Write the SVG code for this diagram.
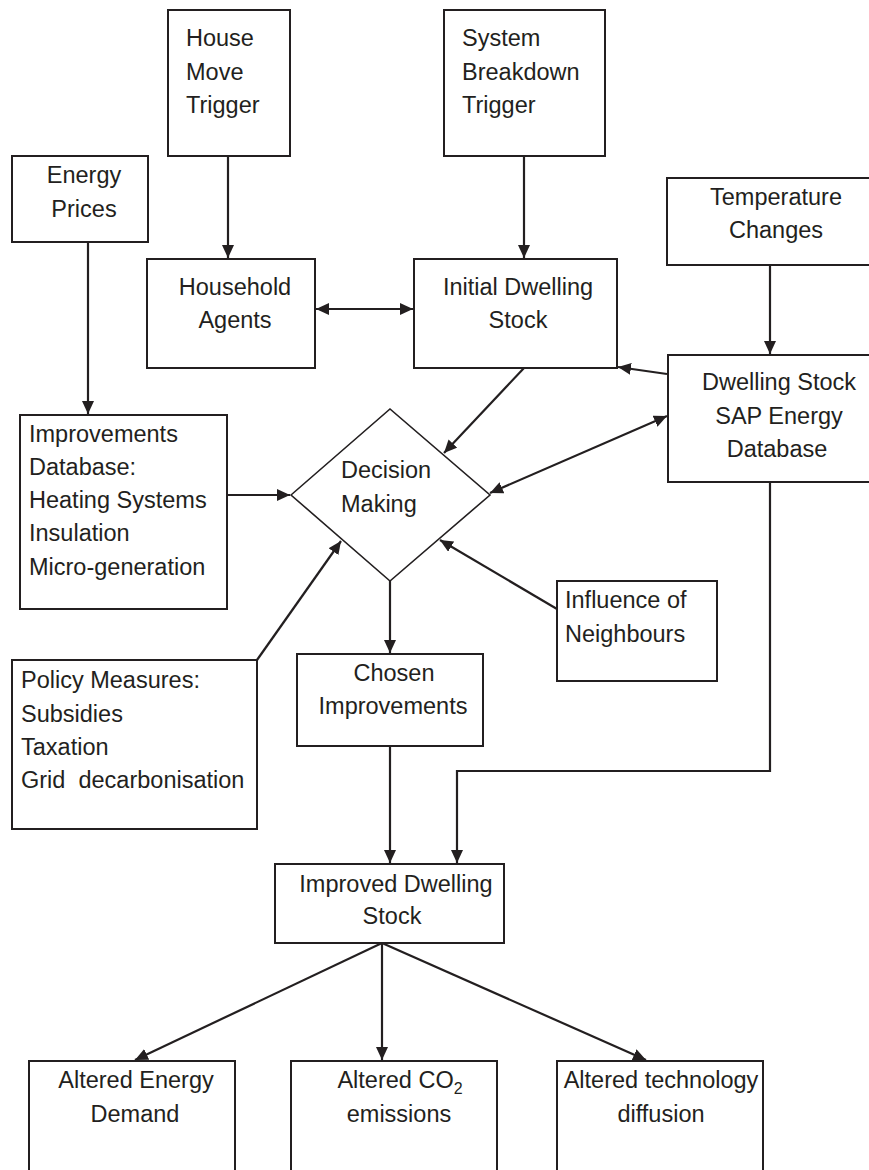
<svg xmlns="http://www.w3.org/2000/svg" width="869" height="1170" viewBox="0 0 869 1170">
<style>
.box{fill:#fff;stroke:#231f20;stroke-width:2}
.t{font-family:"Liberation Sans",Arial,sans-serif;font-size:23.5px;fill:#231f20}
.c{text-anchor:middle}
.con{fill:none;stroke:#231f20;stroke-width:2.2}
.arr{marker-end:url(#ah)}
.dbl{marker-start:url(#ah);marker-end:url(#ah)}
</style>
<defs>
<marker id="ah" markerUnits="userSpaceOnUse" markerWidth="14" markerHeight="12" refX="13" refY="6" orient="auto-start-reverse">
<path d="M0,0 L13,6 L0,12 z" fill="#231f20"/>
</marker>
</defs>
<rect width="869" height="1170" fill="#fff"/>

<g id="connectors">
<line class="con arr" x1="228" y1="156" x2="228" y2="258"/>
<line class="con arr" x1="524" y1="156" x2="524" y2="258"/>
<line class="con arr" x1="88" y1="242" x2="88" y2="414"/>
<line class="con dbl" x1="316" y1="309" x2="413" y2="309"/>
<line class="con arr" x1="770" y1="265" x2="770" y2="354"/>
<line class="con arr" x1="667" y1="374" x2="618" y2="367"/>
<line class="con arr" x1="524" y1="368" x2="444" y2="453"/>
<line class="con dbl" x1="490" y1="493" x2="667" y2="416"/>
<line class="con arr" x1="227" y1="495" x2="290" y2="495"/>
<line class="con arr" x1="257" y1="660" x2="341" y2="541"/>
<line class="con arr" x1="557" y1="609" x2="440" y2="540"/>
<line class="con arr" x1="390" y1="581" x2="390" y2="653"/>
<line class="con arr" x1="390" y1="746" x2="390" y2="863"/>
<path class="con arr" d="M770,482 V771 H457 V863"/>
<line class="con arr" x1="382" y1="943" x2="135" y2="1060"/>
<line class="con arr" x1="382" y1="943" x2="382" y2="1060"/>
<line class="con arr" x1="382" y1="943" x2="646" y2="1060"/>
</g>

<g id="house-move-trigger">
<rect class="box" x="168" y="10" width="122" height="146"/>
<text class="t" x="186" y="46">House</text>
<text class="t" x="186" y="80">Move</text>
<text class="t" x="186" y="113">Trigger</text>
</g>

<g id="system-breakdown-trigger">
<rect class="box" x="444" y="10" width="161" height="146"/>
<text class="t" x="462" y="46">System</text>
<text class="t" x="462" y="80">Breakdown</text>
<text class="t" x="462" y="113">Trigger</text>
</g>

<g id="energy-prices">
<rect class="box" x="12" y="156" width="136" height="86"/>
<text class="t c" x="84" y="183">Energy</text>
<text class="t c" x="84" y="217">Prices</text>
</g>

<g id="temperature-changes">
<rect class="box" x="667" y="178" width="215" height="87"/>
<text class="t c" x="776" y="205">Temperature</text>
<text class="t c" x="776" y="238">Changes</text>
</g>

<g id="household-agents">
<rect class="box" x="147" y="259" width="168" height="109"/>
<text class="t c" x="235" y="295">Household</text>
<text class="t c" x="235" y="328">Agents</text>
</g>

<g id="initial-dwelling-stock">
<rect class="box" x="414" y="259" width="203" height="109"/>
<text class="t c" x="518" y="295">Initial Dwelling</text>
<text class="t c" x="518" y="328">Stock</text>
</g>

<g id="dwelling-stock-sap">
<rect class="box" x="668" y="355" width="214" height="127"/>
<text class="t c" x="779" y="390">Dwelling Stock</text>
<text class="t c" x="779" y="424">SAP Energy</text>
<text class="t c" x="777" y="457">Database</text>
</g>

<g id="improvements-database">
<rect class="box" x="20" y="415" width="207" height="194"/>
<text class="t" x="29" y="442">Improvements</text>
<text class="t" x="29" y="475">Database:</text>
<text class="t" x="29" y="508">Heating Systems</text>
<text class="t" x="29" y="541">Insulation</text>
<text class="t" x="29" y="575">Micro-generation</text>
</g>

<g id="decision-making">
<polygon points="291,495 390,409 490,495 390,581" fill="#fff" stroke="#231f20" stroke-width="1.6"/>
<text class="t" x="341" y="478">Decision</text>
<text class="t" x="341" y="512">Making</text>
</g>

<g id="influence-of-neighbours">
<rect class="box" x="557" y="581" width="160" height="100"/>
<text class="t" x="565" y="608">Influence of</text>
<text class="t" x="565" y="642">Neighbours</text>
</g>

<g id="chosen-improvements">
<rect class="box" x="297" y="654" width="186" height="92"/>
<text class="t c" x="394" y="681">Chosen</text>
<text class="t c" x="393" y="714">Improvements</text>
</g>

<g id="policy-measures">
<rect class="box" x="12" y="660" width="245" height="169"/>
<text class="t" x="21" y="688">Policy Measures:</text>
<text class="t" x="21" y="722">Subsidies</text>
<text class="t" x="21" y="755">Taxation</text>
<text class="t" x="21" y="788" xml:space="preserve">Grid  decarbonisation</text>
</g>

<g id="improved-dwelling-stock">
<rect class="box" x="275" y="864" width="229" height="79"/>
<text class="t c" x="396" y="892">Improved Dwelling</text>
<text class="t c" x="392" y="924">Stock</text>
</g>

<g id="altered-energy-demand">
<rect class="box" x="29" y="1061" width="206" height="130"/>
<text class="t c" x="136" y="1088">Altered Energy</text>
<text class="t c" x="135" y="1122">Demand</text>
</g>

<g id="altered-co2-emissions">
<rect class="box" x="291" y="1061" width="206" height="130"/>
<text class="t c" x="400" y="1088">Altered CO<tspan font-size="16" dy="6">2</tspan></text>
<text class="t c" x="399" y="1122">emissions</text>
</g>

<g id="altered-technology-diffusion">
<rect class="box" x="557" y="1061" width="206" height="130"/>
<text class="t c" x="661" y="1088">Altered technology</text>
<text class="t c" x="661" y="1122">diffusion</text>
</g>
</svg>
